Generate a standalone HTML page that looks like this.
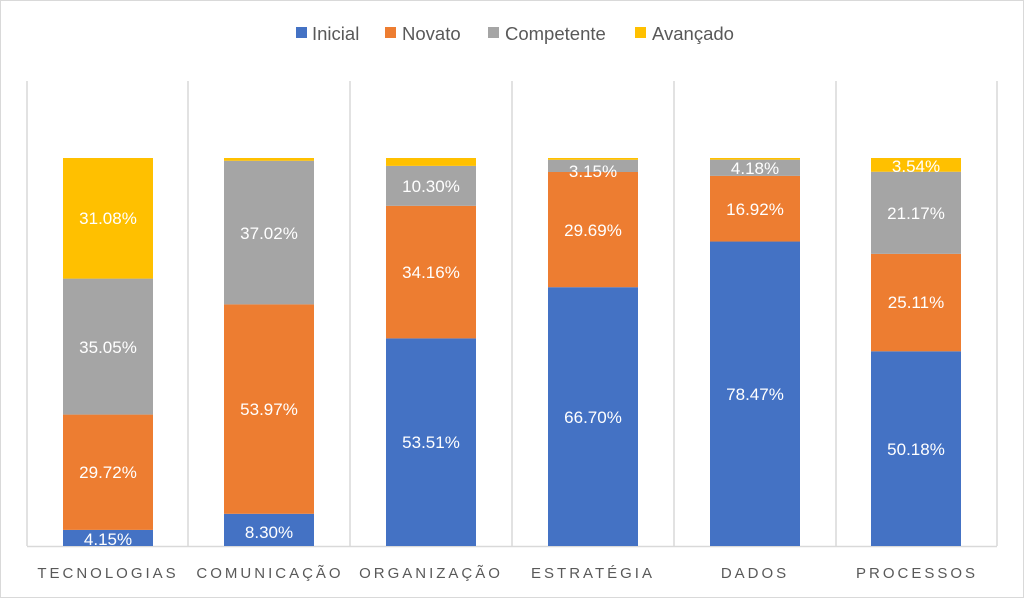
<!DOCTYPE html>
<html><head><meta charset="utf-8"><style>
html,body{margin:0;padding:0;background:#fff}
svg{display:block}
text{font-family:"Liberation Sans",sans-serif}
</style></head><body>
<svg width="1024" height="598" xmlns="http://www.w3.org/2000/svg">
<rect x="0.5" y="0.5" width="1023" height="597" fill="#fff" stroke="#d9d9d9"/>
<g font-size="18.5" fill="#595959">
<rect x="296" y="27" width="11" height="11" fill="#4472c4"/><text x="312" y="40">Inicial</text>
<rect x="385" y="27" width="11" height="11" fill="#ed7d31"/><text x="402" y="40">Novato</text>
<rect x="488" y="27" width="11" height="11" fill="#a5a5a5"/><text x="505" y="40">Competente</text>
<rect x="635" y="27" width="11" height="11" fill="#ffc000"/><text x="652" y="40">Avançado</text>
</g>
<g stroke="#d9d9d9" stroke-width="1.5">
<line x1="27" y1="81" x2="27" y2="546"/><line x1="188" y1="81" x2="188" y2="546"/>
<line x1="350" y1="81" x2="350" y2="546"/><line x1="512" y1="81" x2="512" y2="546"/>
<line x1="674" y1="81" x2="674" y2="546"/><line x1="836" y1="81" x2="836" y2="546"/>
<line x1="997" y1="81" x2="997" y2="546"/>
<line x1="27" y1="546.5" x2="997" y2="546.5"/>
</g>
<g>
<rect x="63" y="529.9" width="90" height="16.1" fill="#4472c4"/>
<rect x="63" y="414.59" width="90" height="115.31" fill="#ed7d31"/>
<rect x="63" y="278.6" width="90" height="135.99" fill="#a5a5a5"/>
<rect x="63" y="158" width="90" height="120.6" fill="#ffc000"/>

<rect x="224" y="513.8" width="90" height="32.2" fill="#4472c4"/>
<rect x="224" y="304.4" width="90" height="209.4" fill="#ed7d31"/>
<rect x="224" y="160.76" width="90" height="143.64" fill="#a5a5a5"/>
<rect x="224" y="158" width="90" height="2.76" fill="#ffc000"/>

<rect x="386" y="338.38" width="90" height="207.62" fill="#4472c4"/>
<rect x="386" y="205.84" width="90" height="132.54" fill="#ed7d31"/>
<rect x="386" y="165.88" width="90" height="39.96" fill="#a5a5a5"/>
<rect x="386" y="158" width="90" height="7.88" fill="#ffc000"/>

<rect x="548" y="287.2" width="90" height="258.8" fill="#4472c4"/>
<rect x="548" y="172" width="90" height="115.2" fill="#ed7d31"/>
<rect x="548" y="159.78" width="90" height="12.22" fill="#a5a5a5"/>
<rect x="548" y="158" width="90" height="1.78" fill="#ffc000"/>

<rect x="710" y="241.54" width="90" height="304.46" fill="#4472c4"/>
<rect x="710" y="175.89" width="90" height="65.65" fill="#ed7d31"/>
<rect x="710" y="159.67" width="90" height="16.22" fill="#a5a5a5"/>
<rect x="710" y="158" width="90" height="1.67" fill="#ffc000"/>

<rect x="871" y="351.3" width="90" height="194.7" fill="#4472c4"/>
<rect x="871" y="253.87" width="90" height="97.43" fill="#ed7d31"/>
<rect x="871" y="171.73" width="90" height="82.14" fill="#a5a5a5"/>
<rect x="871" y="158" width="90" height="13.73" fill="#ffc000"/>
</g>
<g font-size="17" fill="#fff" text-anchor="middle">
<text x="108" y="545">4.15%</text><text x="108" y="478">29.72%</text><text x="108" y="353">35.05%</text><text x="108" y="224">31.08%</text>
<text x="269" y="538">8.30%</text><text x="269" y="415">53.97%</text><text x="269" y="239">37.02%</text>
<text x="431" y="448">53.51%</text><text x="431" y="278">34.16%</text><text x="431" y="192">10.30%</text>
<text x="593" y="423">66.70%</text><text x="593" y="236">29.69%</text><text x="593" y="177">3.15%</text>
<text x="755" y="400">78.47%</text><text x="755" y="215">16.92%</text><text x="755" y="174">4.18%</text>
<text x="916" y="455">50.18%</text><text x="916" y="308">25.11%</text><text x="916" y="219">21.17%</text><text x="916" y="172">3.54%</text>
</g>
<g font-size="15" fill="#595959" letter-spacing="3" text-anchor="middle">
<text x="108" y="578">TECNOLOGIAS</text>
<text x="270" y="578">COMUNICAÇÃO</text>
<text x="431" y="578">ORGANIZAÇÃO</text>
<text x="593" y="578">ESTRATÉGIA</text>
<text x="755" y="578">DADOS</text>
<text x="917" y="578">PROCESSOS</text>
</g>
</svg>
</body></html>
